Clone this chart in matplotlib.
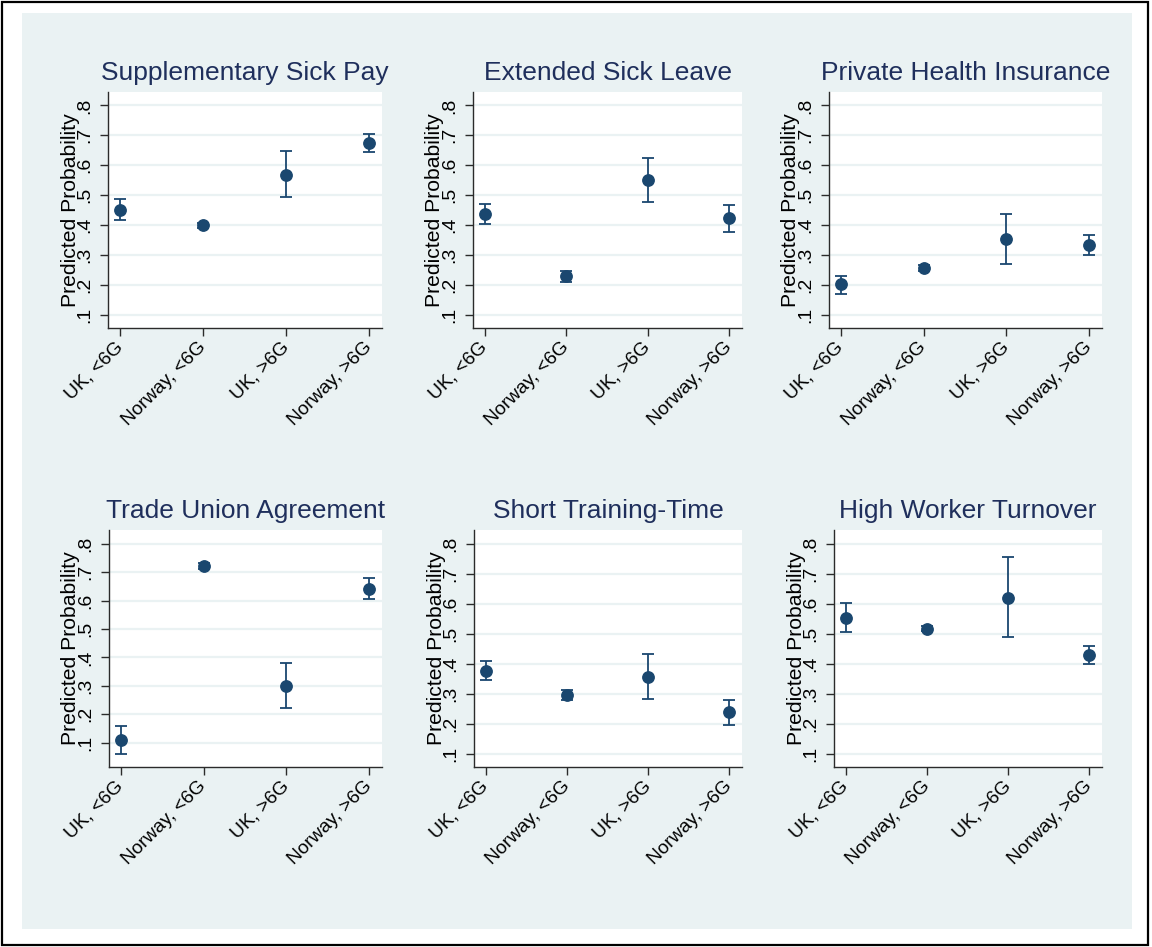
import matplotlib
matplotlib.use("Agg")
import matplotlib.pyplot as plt
from matplotlib.patches import Rectangle

plt.rcParams["font.family"] = ["Liberation Sans", "DejaVu Sans"]

W, H = 1152, 947

CATEGORIES = ["UK, <6G", "Norway, <6G", "UK, >6G", "Norway, >6G"]
YTICKS = [0.1, 0.2, 0.3, 0.4, 0.5, 0.6, 0.7, 0.8]
YTICK_LABELS = [".1", ".2", ".3", ".4", ".5", ".6", ".7", ".8"]

TITLES = [
    "Supplementary Sick Pay",
    "Extended Sick Leave",
    "Private Health Insurance",
    "Trade Union Agreement",
    "Short Training-Time",
    "High Worker Turnover",
]

# predicted probabilities and 95% CI bounds, one list per panel
sick_pay_est = [0.451, 0.399, 0.568, 0.673]
sick_pay_lo  = [0.416, 0.391, 0.492, 0.643]
sick_pay_hi  = [0.486, 0.408, 0.646, 0.703]

sick_leave_est = [0.438, 0.228, 0.551, 0.422]
sick_leave_lo  = [0.404, 0.210, 0.476, 0.375]
sick_leave_hi  = [0.471, 0.245, 0.625, 0.466]

health_ins_est = [0.201, 0.256, 0.353, 0.333]
health_ins_lo  = [0.170, 0.245, 0.270, 0.299]
health_ins_hi  = [0.230, 0.266, 0.437, 0.366]

union_est = [0.109, 0.722, 0.301, 0.642]
union_lo  = [0.061, 0.713, 0.222, 0.606]
union_hi  = [0.159, 0.732, 0.379, 0.681]

training_est = [0.377, 0.295, 0.356, 0.238]
training_lo  = [0.347, 0.279, 0.283, 0.195]
training_hi  = [0.408, 0.311, 0.431, 0.279]

turnover_est = [0.554, 0.517, 0.621, 0.429]
turnover_lo  = [0.506, 0.508, 0.488, 0.398]
turnover_hi  = [0.602, 0.526, 0.756, 0.460]

PANELS = [
    (sick_pay_est, sick_pay_lo, sick_pay_hi),
    (sick_leave_est, sick_leave_lo, sick_leave_hi),
    (health_ins_est, health_ins_lo, health_ins_hi),
    (union_est, union_lo, union_hi),
    (training_est, training_lo, training_hi),
    (turnover_est, turnover_lo, turnover_hi),
]

# axes boxes in pixels: left, right, top, bottom
BOXES = [
    (108, 382, 92, 328),
    (473, 742, 92, 328),
    (829, 1102, 92, 328),
    (109, 382, 530, 767),
    (474, 742, 530, 767),
    (834, 1102, 530, 767),
]
YLIMS = [
    (0.055, 0.845), (0.055, 0.845), (0.055, 0.845),
    (0.014, 0.849), (0.055, 0.847), (0.055, 0.847),
]

NAVY = "#1a476f"
TITLE_COLOR = "#1f2f5c"
BG = "#eaf2f3"
AXIS_COLOR = "#2b2b2b"

fig = plt.figure(figsize=(W / 100, H / 100), dpi=100)
fig.patch.set_facecolor("white")

# outer frame and graph region, kept behind the axes
fig.patches.append(Rectangle((2 / W, 1 - 945 / H), 1146 / W, 943 / H,
                             transform=fig.transFigure, fill=False,
                             edgecolor="black", linewidth=1.6, zorder=-2))
fig.patches.append(Rectangle((22 / W, 1 - 929 / H), 1110 / W, 916 / H,
                             transform=fig.transFigure, facecolor=BG,
                             edgecolor="none", zorder=-1))

x = [1, 2, 3, 4]
for (est, lo, hi), title, (l, r, t, b), ylim in zip(PANELS, TITLES, BOXES, YLIMS):
    ax = fig.add_axes([l / W, 1 - b / H, (r - l) / W, (b - t) / H])
    ax.set_zorder(1)
    ax.set_facecolor("white")

    err = [[e - a for e, a in zip(est, lo)], [c - e for e, c in zip(est, hi)]]
    ax.errorbar(x, est, yerr=err, fmt="o", color=NAVY, ecolor=NAVY,
                markersize=8.2, elinewidth=1.3, capsize=4.2, capthick=1.3,
                zorder=3)

    ax.set_xlim(1 - 12 / 83, 4 + 13 / 83)
    ax.set_ylim(*ylim)
    ax.set_yticks(YTICKS)
    ax.set_yticklabels(YTICK_LABELS, rotation=90, va="center", fontsize=14)
    ax.set_xticks(x)
    ax.set_xticklabels(CATEGORIES, rotation=45, ha="right", va="center",
                       rotation_mode="anchor", fontsize=13.8)
    ax.tick_params(axis="both", length=6, width=1, color=AXIS_COLOR, pad=4.5)
    ax.tick_params(axis="x", pad=6)

    ax.yaxis.grid(True, color=BG, linewidth=1.6)
    ax.set_axisbelow(True)
    for side in ("top", "right"):
        ax.spines[side].set_visible(False)
    for side in ("left", "bottom"):
        ax.spines[side].set_color(AXIS_COLOR)
        ax.spines[side].set_linewidth(1)

    ax.set_ylabel("Predicted Probability", fontsize=15.2)
    ax.yaxis.label.set_va("center")
    ax.yaxis.set_label_coords(-38 / (r - l), 0.5)
    ax.set_title(title, fontsize=19, color=TITLE_COLOR, pad=9)

fig.savefig("out.png", dpi=100, facecolor=fig.get_facecolor())
